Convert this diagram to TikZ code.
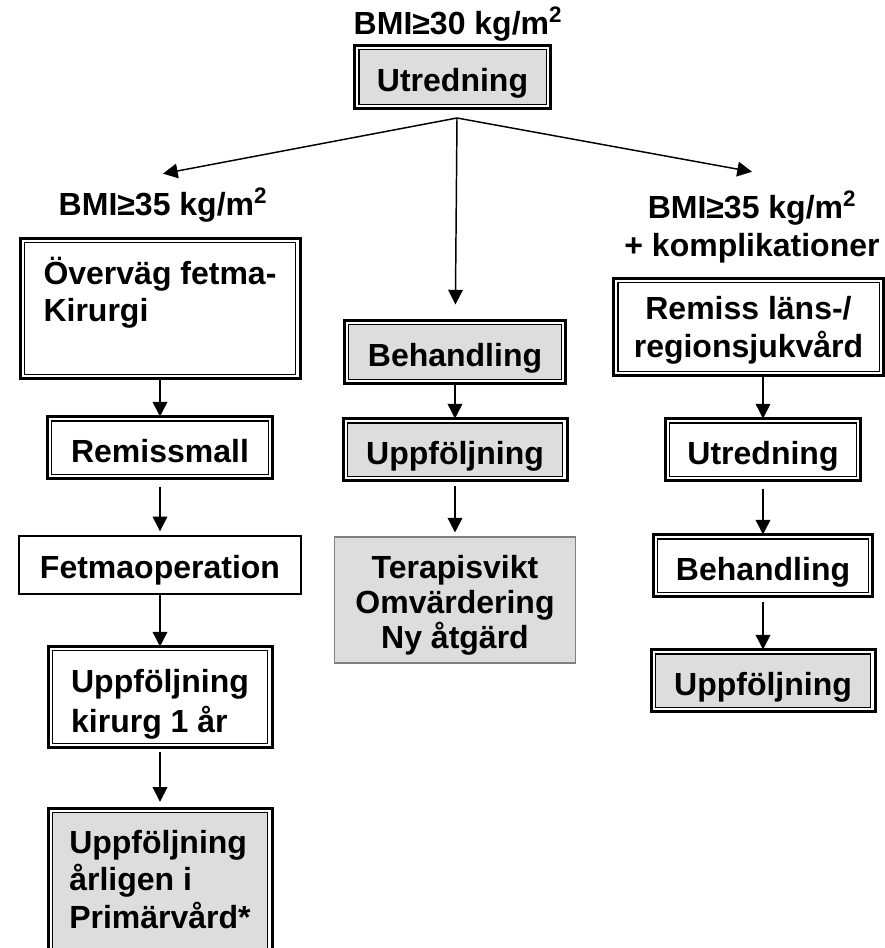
\documentclass[tikz,border=0pt]{standalone}
\usepackage{fontspec}
\setmainfont{Liberation Sans}
\usepackage{xcolor}
\usetikzlibrary{arrows.meta}

\definecolor{boxgray}{RGB}{221,221,221}
\tikzset{
	dbox/.style={draw,line width=1.1pt,inner sep=0pt,outer sep=3.2pt,align=center,text height=22pt,text depth=0pt},
	gbox/.style={dbox,fill=boxgray},
	sbox/.style={draw,line width=1.1pt,inner sep=0pt,align=center,text depth=0pt}
}

\begin{document}
\begin{tikzpicture}[x=0.75pt,y=-0.75pt,line width=1.1pt,
	every node/.style={font=\fontsize{24}{28}\selectfont\bfseries}]
		\useasboundingbox (0,0) rectangle (884,948);
		%
		\node (bmi30) at (458,24) {BMI≥30 kg/m\textsuperscript{2}};
		\node[gbox,minimum width=140.6pt,minimum height=40.9pt] (utr) at (452.5,77) {Utredning};
		\coordinate (fan) at (457,118);
		%
		\node[inner xsep=6pt,inner ysep=10pt] (bmi35l) at (163,205) {BMI≥35 kg/m\textsuperscript{2}};
		\node[align=center,inner xsep=6pt,inner ysep=14pt] (bmi35r) at (752,227) {BMI≥35 kg/m\textsuperscript{2}\\+ komplikationer};
		%
		\node[dbox,align=left,minimum width=203.6pt,minimum height=98.6pt,text height=20pt] (ovr) at (160,308.5) {Överväg fetma-\\Kirurgi};
		\node[dbox,minimum width=162.4pt,minimum height=40.1pt] (rems) at (160,447.5) {Remissmall};
		\node[sbox,minimum width=211.5pt,minimum height=43.5pt,text height=20pt] (fetma) at (160,565) {Fetmaoperation};
		\node[dbox,align=left,minimum width=161.6pt,minimum height=69.4pt,text height=52.5pt] (kir) at (160,697) {Uppföljning\\[2pt]kirurg 1 år};
		\node[gbox,align=left,minimum width=161.6pt,minimum height=102.4pt,text height=70.5pt] (prim) at (160,881) {Uppföljning\\årligen i\\Primärvård*};
		%
		\node[gbox,minimum width=159.4pt,minimum height=40.9pt] (beh) at (455,352) {Behandling};
		\node[gbox,minimum width=161.6pt,minimum height=40.1pt] (upp) at (455,449.5) {Uppföljning};
		\node[sbox,draw=black!50,line width=0.8pt,fill=boxgray,minimum width=180.75pt,minimum height=94.5pt,text height=72pt] (ter) at (455,600) {Terapisvikt\\[-2pt]Omvärdering\\[-2pt]Ny åtgärd};
		%
		\node[dbox,minimum width=196.1pt,minimum height=66.4pt,text height=45pt] (rem) at (748.5,327) {Remiss läns-/\\regionsjukvård};
		\node[dbox,minimum width=139.9pt,minimum height=40.1pt] (ut2) at (763,449.5) {Utredning};
		\node[dbox,minimum width=157.9pt,minimum height=40.1pt] (beh2) at (763,565.5) {Behandling};
		\node[gbox,minimum width=161.6pt,minimum height=40.1pt] (upp2) at (763,680.5) {Uppföljning};
		%
		\foreach \n in {utr,ovr,rems,kir,prim,beh,upp,rem,ut2,beh2,upp2}
			\draw[line width=2.25pt] (\n.north west) rectangle (\n.south east);
		%
		\path[->,>={Triangle[length=11pt,width=11pt]}]
		(fan) edge (bmi35l.north)
		(fan) edge[shorten >=12pt] (beh)
		(fan) edge (bmi35r.north)
		(ovr) edge (rems)
		(rems) edge[shorten <=6pt,shorten >=3pt] (fetma)
		(fetma) edge (kir)
		(kir) edge[shorten <=3pt,shorten >=5pt] (prim)
		(beh) edge (upp)
		(upp) edge[shorten <=4pt,shorten >=3pt] (ter)
		(rem.south -| ut2) edge (ut2)
		(ut2) edge[shorten <=6pt] (beh2)
		(beh2) edge[shorten <=4pt] (upp2);
		\end{tikzpicture}
\end{document}
